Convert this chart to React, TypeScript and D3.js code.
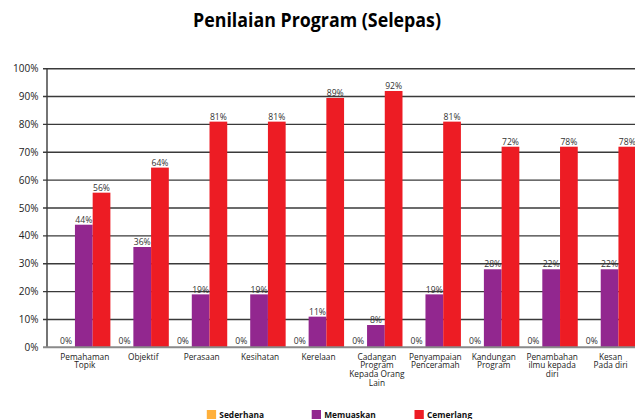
import React from "react";
import * as d3 from "d3";

const categories: string[][] = [
  ["Pemahaman", "Topik"],
  ["Objektif"],
  ["Perasaan"],
  ["Kesihatan"],
  ["Kerelaan"],
  ["Cadangan", "Program", "Kepada Orang", "Lain"],
  ["Penyampaian", "Penceramah"],
  ["Kandungan", "Program"],
  ["Penambahan", "ilmu kepada", "diri"],
  ["Kesan", "Pada diri"],
];

const seriesNames = ["Sederhana", "Memuaskan", "Cemerlang"];
const seriesColors = ["#FFB03B", "#92278F", "#ED1C24"];

// bar heights as drawn (fraction)
const sederhanaValues = [0, 0, 0, 0, 0, 0, 0, 0, 0, 0];
const memuaskanValues = [0.44, 0.36, 0.19, 0.19, 0.11, 0.08, 0.19, 0.28, 0.28, 0.28];
const cemerlangValues = [0.555, 0.645, 0.81, 0.81, 0.895, 0.92, 0.81, 0.72, 0.72, 0.72];

// data labels as printed
const sederhanaLabels = ["0%", "0%", "0%", "0%", "0%", "0%", "0%", "0%", "0%", "0%"];
const memuaskanLabels = ["44%", "36%", "19%", "19%", "11%", "8%", "19%", "28%", "22%", "22%"];
const cemerlangLabels = ["56%", "64%", "81%", "81%", "89%", "92%", "81%", "72%", "78%", "78%"];

const yTicks = [0, 0.1, 0.2, 0.3, 0.4, 0.5, 0.6, 0.7, 0.8, 0.9, 1.0];

const W = 635;
const H = 419;
const FONT = "'Open Sans', 'Noto Sans', sans-serif";

export default function App() {
  const values = [sederhanaValues, memuaskanValues, cemerlangValues];
  const labels = [sederhanaLabels, memuaskanLabels, cemerlangLabels];
  const axisX = 47;
  const y = d3.scaleLinear().domain([0, 1]).range([347.3, 68.7]);
  const x0 = d3
    .scaleBand<number>()
    .domain(d3.range(categories.length))
    .range([54.6, 638.8])
    .paddingInner(0)
    .paddingOuter(0);
  const bw = x0.bandwidth();
  const x1 = d3
    .scaleBand<number>()
    .domain([0, 1, 2])
    .range([bw * 0.045, bw * 0.955])
    .padding(0);

  return (
    <svg
      width={W}
      height={H}
      style={{ position: "absolute", left: 0, top: 0, background: "#fff" }}
      fontFamily={FONT}
    >
      <rect x={0} y={0} width={W} height={H} fill="#fff" />
      <text
        x={317}
        y={27.3}
        textAnchor="middle"
        fontSize={20}
        fontWeight="bold"
        fill="#000"
        textLength={248}
        lengthAdjust="spacingAndGlyphs"
      >
        Penilaian Program (Selepas)
      </text>

      {/* gridlines */}
      {yTicks.map((t, i) =>
        t === 0 ? null : (
          <line
            key={"g" + i}
            x1={axisX - 4}
            x2={W}
            y1={y(t)}
            y2={y(t)}
            stroke="#3a3a3a"
            strokeWidth={1.4}
          />
        )
      )}
      {/* y tick labels */}
      {yTicks.map((t, i) => (
        <text
          key={"yl" + i}
          x={38.5}
          y={y(t) + 3.6}
          textAnchor="end"
          fontSize={10}
          fill="#222"
        >
          {Math.round(t * 100) + "%"}
        </text>
      ))}
      {/* y axis */}
      <line x1={axisX} x2={axisX} y1={y(1)} y2={y(0)} stroke="#3a3a3a" strokeWidth={1.4} />

      {/* bars */}
      {categories.map((c, ci) =>
        values.map((vals, si) => (
          <rect
            key={"b" + ci + "-" + si}
            x={(x0(ci) as number) + (x1(si) as number)}
            y={y(vals[ci])}
            width={x1.bandwidth()}
            height={y(0) - y(vals[ci])}
            fill={seriesColors[si]}
          />
        ))
      )}

      {/* x axis line */}
      <line x1={axisX - 4} x2={W} y1={y(0)} y2={y(0)} stroke="#8a8a8a" strokeWidth={2} />

      {/* data labels */}
      {categories.map((c, ci) =>
        labels.map((labs, si) => (
          <text
            key={"dl" + ci + "-" + si}
            x={(x0(ci) as number) + (x1(si) as number) + x1.bandwidth() / 2}
            y={y(values[si][ci]) - (values[si][ci] === 0 ? 3.5 : 1.8)}
            textAnchor="middle"
            fontSize={8.6}
            fill="#333"
          >
            {labs[ci]}
          </text>
        ))
      )}

      {/* category labels */}
      {categories.map((lines, ci) => (
        <text
          key={"cl" + ci}
          textAnchor="middle"
          fontSize={8.3}
          fill="#222"
        >
          {lines.map((ln, li) => (
            <tspan
              key={li}
              x={(x0(ci) as number) + bw / 2 + 1}
              y={359.5 + li * 8.8}
            >
              {ln}
            </tspan>
          ))}
        </text>
      ))}

      {/* legend */}
      {seriesNames.map((n, i) => {
        const lx = [206.8, 311.7, 414.5][i];
        return (
          <g key={"lg" + i}>
            <rect x={lx} y={410} width={9.3} height={9} fill={seriesColors[i]} />
            <text x={lx + 12.5} y={418} fontSize={8.4} fontWeight="bold" fill="#111">
              {n}
            </text>
          </g>
        );
      })}
    </svg>
  );
}
